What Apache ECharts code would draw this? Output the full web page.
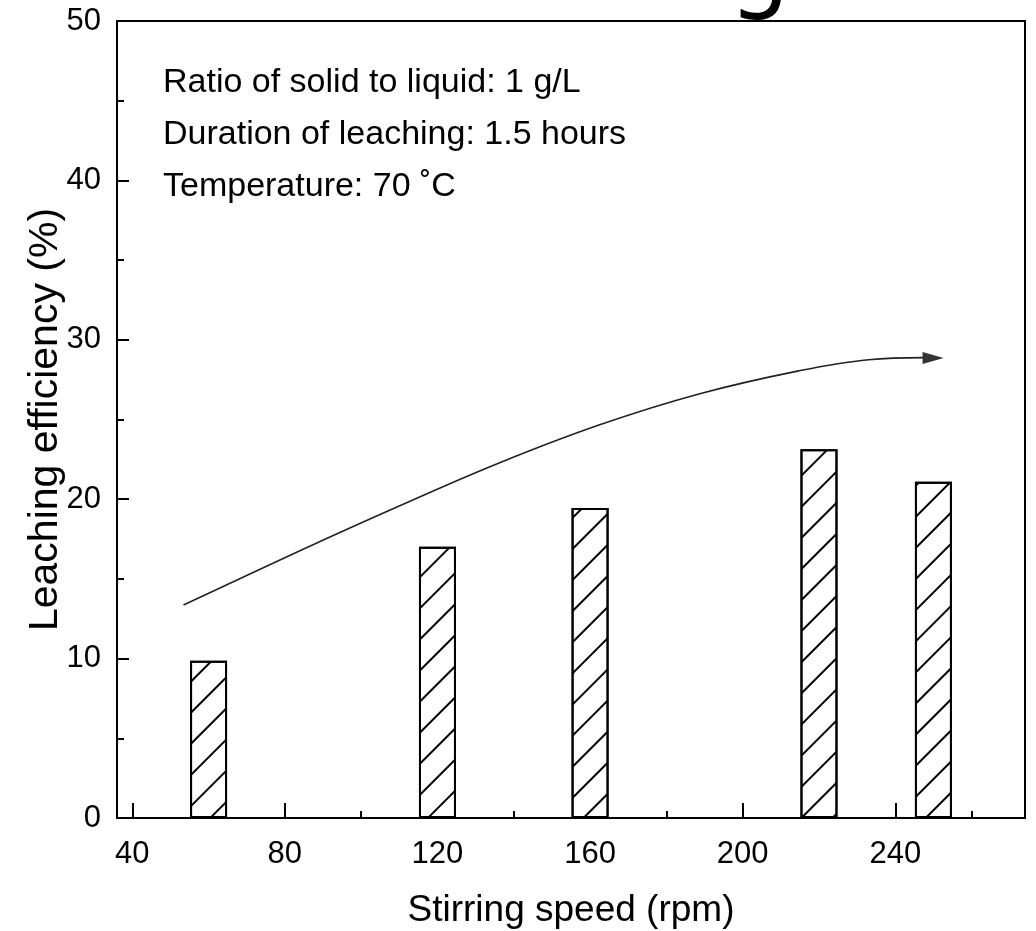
<!DOCTYPE html>
<html>
<head>
<meta charset="utf-8">
<script src="https://cdn.jsdelivr.net/npm/echarts@6/dist/echarts.min.js"></script>
<style>
  html, body { margin: 0; padding: 0; background: #fff; }
  #chart { width: 1036px; height: 931px; }
</style>
</head>
<body>
<div id="chart"></div>
<script>
// stirring speed (rpm) and leaching efficiency (%)
const speeds = [60, 120, 160, 220, 250]
const efficiency = [9.87, 17.02, 19.45, 23.13, 21.1]

// trend arrow drawn above the bars
const trendX = [53.43, 83.8, 109.97, 136.15, 162.33, 188.51, 214.69, 233.01, 247.41]
const trendY = [13.36, 16.75, 19.57, 22.27, 24.65, 26.6, 28.05, 28.75, 28.88]
const arrowHead = [249.9, 28.86]

const xMajor = [40, 80, 120, 160, 200, 240]
const xMinor = [60, 100, 140, 180, 220, 260]

const notes = [
  'Ratio of solid to liquid: 1 g/L',
  'Duration of leaching: 1.5 hours',
  'Temperature: 70 ˚C'
]

const font = 'Liberation Sans, Arial, sans-serif'
const chart = echarts.init(document.getElementById('chart'))

chart.setOption({
  animation: false,
  backgroundColor: '#fff',
  textStyle: { fontFamily: font, color: '#000' },
  grid: {
    left: 117, right: 11, top: 21, bottom: 113,
    outerBoundsMode: 'none',
    show: true, borderColor: '#000', borderWidth: 2
  },
  xAxis: [
    {
      type: 'value', min: 36, max: 274,
      name: 'Stirring speed (rpm)', nameLocation: 'middle', nameGap: 74,
      nameTextStyle: { fontSize: 37, color: '#000', fontFamily: font },
      axisLine: { show: true, lineStyle: { color: '#000', width: 2 } },
      axisTick: { inside: true, length: 15, customValues: xMajor, lineStyle: { color: '#000', width: 2 } },
      axisLabel: { customValues: xMajor, fontSize: 31, margin: 21, color: '#000', fontFamily: font },
      splitLine: { show: false }
    },
    {
      type: 'value', min: 36, max: 274, position: 'bottom',
      axisLine: { show: false },
      axisTick: { inside: true, length: 7, customValues: xMinor, lineStyle: { color: '#000', width: 2 } },
      axisLabel: { show: false },
      splitLine: { show: false }
    }
  ],
  yAxis: {
    type: 'value', min: 0, max: 50, interval: 10,
    name: 'Leaching efficiency (%)', nameLocation: 'middle', nameGap: 51,
    nameMoveOverlap: false,
    nameTextStyle: { fontSize: 41, color: '#000', fontFamily: font },
    axisLine: { show: true, lineStyle: { color: '#000', width: 2 } },
    axisTick: { inside: true, length: 12, lineStyle: { color: '#000', width: 2 } },
    minorTick: { show: true, splitNumber: 2, length: 7, lineStyle: { color: '#000', width: 2 } },
    axisLabel: { fontSize: 31, margin: 16, color: '#000', fontFamily: font },
    splitLine: { show: false }
  },
  graphic: [
    {
      type: 'text', left: 729, top: -73, silent: true,
      style: { text: 'g', font: '96px "DejaVu Sans"', fill: '#000' }
    },
    ...notes.map((t, i) => ({
      type: 'text', left: 163, top: 66 + i * 52, silent: true,
      style: { text: t, font: '34px ' + font, fill: '#000' }
    }))
  ],
  series: [
    {
      type: 'bar',
      data: speeds.map((s, i) => [s, efficiency[i]]),
      barWidth: 37,
      itemStyle: {
        color: '#fff', borderColor: '#000', borderWidth: 2,
        decal: {
          symbol: 'rect', symbolSize: 1, color: '#000',
          dashArrayX: [1, 0], dashArrayY: [1.2, 20],
          rotation: -Math.PI / 4
        }
      }
    },
    {
      type: 'line',
      data: trendX.map((x, i) => [x, trendY[i]]),
      smooth: 0.4, symbol: 'none',
      lineStyle: { color: '#222', width: 1.6 }
    },
    {
      type: 'scatter',
      data: [arrowHead],
      symbol: 'triangle', symbolRotate: -90, symbolSize: [12, 21],
      itemStyle: { color: '#000' }
    }
  ]
})
</script>
</body>
</html>
